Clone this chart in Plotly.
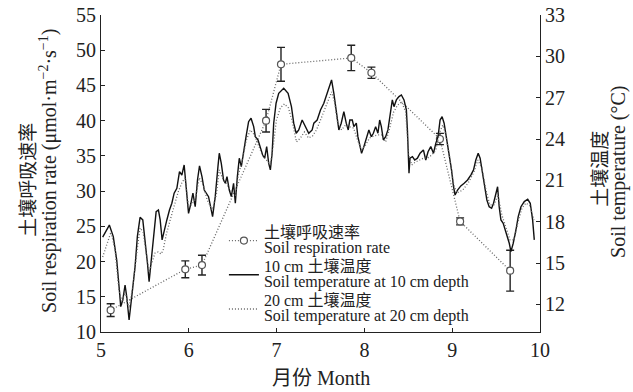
import plotly.graph_objects as go

# Soil respiration rate (left axis)
resp_month = [5.11, 5.96, 6.15, 6.88, 7.05, 7.85, 8.08, 8.86, 9.09, 9.66]
resp_rate = [13.1, 18.9, 19.5, 40.0, 48.0, 48.9, 46.8, 37.4, 25.7, 18.7]
resp_err = [0.9, 1.2, 1.4, 1.6, 2.4, 1.8, 0.8, 0.8, 0.5, 2.9]

# Soil temperature at 10 cm (right axis)
t10_month = [5.019, 5.095, 5.140, 5.179, 5.209, 5.225, 5.248, 5.274, 5.293, 5.320,
             5.350, 5.388, 5.414, 5.445, 5.476, 5.502, 5.529, 5.548, 5.571, 5.597,
             5.628, 5.654, 5.674, 5.696, 5.719, 5.750, 5.780, 5.807, 5.833, 5.864,
             5.894, 5.921, 5.947, 5.970, 5.997, 6.024, 6.047, 6.073, 6.099, 6.122,
             6.150, 6.176, 6.225, 6.271, 6.301, 6.332, 6.347, 6.370, 6.396, 6.416,
             6.435, 6.461, 6.484, 6.510, 6.530, 6.553, 6.575, 6.598, 6.624, 6.652,
             6.681, 6.709, 6.739, 6.758, 6.789, 6.815, 6.841, 6.864, 6.887, 6.910,
             6.929, 6.949, 6.967, 6.994, 7.024, 7.081, 7.131, 7.169, 7.195, 7.223,
             7.252, 7.291, 7.329, 7.366, 7.405, 7.424, 7.462, 7.500, 7.538, 7.577,
             7.606, 7.626, 7.652, 7.683, 7.709, 7.736, 7.766, 7.793, 7.816, 7.834,
             7.862, 7.880, 7.908, 7.926, 7.949, 7.968, 7.994, 8.025, 8.051, 8.079,
             8.102, 8.128, 8.154, 8.174, 8.193, 8.216, 8.242, 8.268, 8.299, 8.318,
             8.337, 8.364, 8.394, 8.421, 8.451, 8.478, 8.490, 8.497, 8.508, 8.519,
             8.547, 8.573, 8.604, 8.634, 8.672, 8.699, 8.725, 8.756, 8.787, 8.813,
             8.839, 8.862, 8.885, 8.908, 8.938, 8.965, 8.992, 9.015, 9.033, 9.061,
             9.098, 9.136, 9.175, 9.212, 9.243, 9.269, 9.296, 9.318, 9.346, 9.372,
             9.395, 9.421, 9.449, 9.471, 9.498, 9.517, 9.535, 9.555, 9.581, 9.604,
             9.631, 9.650, 9.669, 9.695, 9.726, 9.752, 9.783, 9.821, 9.860, 9.889,
             9.916, 9.935]
t10_temp = [16.89, 17.76, 16.92, 15.22, 13.05, 11.84, 12.32, 13.41, 12.56, 10.87,
            12.56, 14.74, 16.92, 18.32, 18.13, 16.68, 14.99, 13.65, 15.22, 16.92,
            18.73, 18.85, 18.13, 16.68, 17.40, 18.13, 18.85, 19.34, 20.07, 20.43,
            21.63, 21.39, 22.12, 20.54, 18.61, 19.34, 20.07, 19.09, 21.03, 22.05,
            21.27, 20.30, 19.82, 18.37, 19.82, 22.00, 22.97, 22.24, 21.03, 20.79,
            21.27, 20.30, 19.82, 20.79, 19.34, 21.27, 22.61, 22.00, 23.21, 24.17,
            25.26, 25.51, 24.90, 24.17, 23.93, 23.45, 22.84, 22.61, 23.45, 22.24,
            21.76, 22.97, 25.15, 26.60, 27.32, 27.69, 27.32, 26.35, 25.15, 24.42,
            24.66, 25.38, 24.90, 24.42, 24.66, 25.15, 25.38, 26.11, 26.60, 27.32,
            27.80, 28.29, 27.32, 25.62, 24.66, 25.15, 25.99, 25.15, 24.66, 25.38,
            25.38, 24.90, 25.15, 24.17, 23.45, 22.97, 23.45, 24.17, 24.66, 24.17,
            24.42, 24.90, 24.42, 25.38, 24.90, 23.93, 24.17, 24.66, 25.87, 26.84,
            26.35, 26.84, 27.08, 27.20, 26.84, 26.11, 24.66, 22.72, 21.52, 22.61,
            22.72, 22.48, 22.61, 22.97, 23.21, 22.48, 23.08, 23.45, 22.97, 23.69,
            24.17, 25.38, 25.62, 25.15, 23.93, 22.97, 21.76, 20.54, 19.94, 20.30,
            20.60, 20.79, 21.03, 21.39, 21.76, 22.48, 22.97, 22.61, 21.52, 20.30,
            19.58, 19.09, 18.98, 19.34, 19.94, 20.54, 19.09, 18.13, 17.89, 17.40,
            16.92, 16.44, 15.83, 16.44, 17.40, 18.37, 19.09, 19.46, 19.63, 19.34,
            18.13, 16.68]

# Soil temperature at 20 cm (right axis)
t20_month = [5.019, 5.068, 5.114, 5.160, 5.205, 5.240, 5.274, 5.320, 5.365, 5.411,
             5.445, 5.479, 5.514, 5.548, 5.582, 5.616, 5.651, 5.685, 5.708, 5.742,
             5.788, 5.833, 5.879, 5.925, 5.959, 5.993, 6.027, 6.073, 6.119, 6.164,
             6.210, 6.267, 6.313, 6.347, 6.393, 6.438, 6.484, 6.530, 6.564, 6.610,
             6.655, 6.701, 6.747, 6.792, 6.838, 6.884, 6.929, 6.963, 6.998, 7.043,
             7.089, 7.135, 7.180, 7.226, 7.272, 7.317, 7.363, 7.409, 7.454, 7.500,
             7.546, 7.591, 7.626, 7.660, 7.694, 7.740, 7.785, 7.831, 7.877, 7.922,
             7.968, 8.014, 8.059, 8.105, 8.151, 8.196, 8.242, 8.288, 8.333, 8.379,
             8.425, 8.470, 8.505, 8.539, 8.584, 8.630, 8.676, 8.721, 8.767, 8.813,
             8.858, 8.893, 8.927, 8.973, 9.018, 9.053, 9.121, 9.189, 9.247, 9.292,
             9.338, 9.384, 9.429, 9.475, 9.521, 9.566, 9.612, 9.658, 9.703, 9.749,
             9.795, 9.840, 9.886, 9.932]
t20_temp = [15.44, 16.31, 17.26, 15.95, 13.05, 12.18, 12.90, 11.74, 13.41, 15.95,
            17.55, 17.26, 15.59, 14.35, 15.08, 15.73, 15.81, 15.66, 15.95, 17.04,
            18.13, 19.22, 20.16, 20.89, 21.17, 19.22, 19.22, 19.58, 21.18, 20.67,
            19.58, 18.85, 19.94, 21.76, 21.03, 20.67, 20.16, 19.94, 21.39, 22.48,
            23.93, 24.66, 24.30, 23.57, 22.84, 22.48, 22.12, 23.57, 25.38, 26.26,
            26.55, 26.26, 25.24, 23.79, 24.08, 24.51, 24.08, 24.22, 24.66, 25.38,
            26.11, 26.84, 27.42, 26.69, 25.24, 24.66, 25.02, 24.88, 24.80, 23.93,
            23.21, 23.57, 24.08, 24.22, 24.30, 24.30, 23.79, 24.80, 25.96, 26.47,
            26.69, 25.96, 22.84, 22.12, 22.34, 22.48, 22.63, 22.63, 22.84, 23.21,
            24.51, 25.02, 24.30, 22.63, 20.67, 20.09, 20.30, 20.89, 21.61, 22.48,
            21.90, 20.30, 19.22, 19.22, 19.94, 18.49, 17.55, 16.68, 16.68, 17.98,
            19.00, 19.36, 19.14, 18.13]

x_ticks = [5, 6, 7, 8, 9, 10]
y1_ticks = [10, 15, 20, 25, 30, 35, 40, 45, 50, 55]
y2_ticks = [12, 15, 18, 21, 24, 27, 30, 33]

SERIF = "Liberation Serif, Times New Roman, Noto Sans CJK SC, serif"


def leg(l1, l2):
    s = "<span style='font-size:16px'>"
    return s + l1 + "</span><br>" + s + l2 + "</span>"


fig = go.Figure()

fig.add_trace(go.Scatter(
    x=resp_month, y=resp_rate, mode="lines+markers",
    name=leg("土壤呼吸速率", "Soil respiration rate"),
    line=dict(color="#666666", width=1.3, dash="1px,2px"),
    marker=dict(symbol="circle", size=7, color="white",
                line=dict(color="#555555", width=1.2)),
    error_y=dict(type="data", array=resp_err, color="#222222",
                 thickness=1.4, width=4),
    yaxis="y"))

fig.add_trace(go.Scatter(
    x=t10_month, y=t10_temp, mode="lines",
    name=leg("10 cm 土壤温度", "Soil temperature at 10 cm depth"),
    line=dict(color="#111111", width=1.4),
    yaxis="y2"))

fig.add_trace(go.Scatter(
    x=t20_month, y=t20_temp, mode="lines",
    name=leg("20 cm 土壤温度", "Soil temperature at 20 cm depth"),
    line=dict(color="#666666", width=1.3, dash="1px,2px"),
    yaxis="y2"))

axis_common = dict(showgrid=False, zeroline=False, showline=True,
                   automargin=False, ticklabeloverflow="allow",
                   linecolor="#222222", linewidth=1, ticks="inside",
                   ticklen=4, tickcolor="#222222",
                   tickfont=dict(family=SERIF, size=20, color="#222222"))

fig.update_layout(
    width=633, height=392,
    margin=dict(l=101, r=93, t=15, b=60),
    paper_bgcolor="white", plot_bgcolor="white",
    font=dict(family=SERIF, color="#222222"),
    showlegend=True,
    legend=dict(x=0.28, y=0.358, xanchor="left", yanchor="top",
                bgcolor="rgba(0,0,0,0)", font=dict(family=SERIF, size=12,
                                                    color="#222222"),
                tracegroupgap=0, itemwidth=30),
    xaxis=dict(range=[5, 10], tickvals=x_ticks,
               ticktext=[str(v) for v in x_ticks], **axis_common),
    yaxis=dict(range=[10, 55], tickvals=y1_ticks,
               ticktext=[str(v) for v in y1_ticks], **axis_common),
    yaxis2=dict(range=[10, 33], tickvals=y2_ticks,
                ticktext=[str(v) for v in y2_ticks], overlaying="y",
                side="right", **axis_common),
)

ann_font = dict(family=SERIF, size=20, color="#222222")
cjk_font = dict(family=SERIF, size=19, color="#222222")
fig.add_annotation(text="月份 Month", xref="paper", yref="paper", x=0.5, y=0,
                   yshift=-46, xanchor="center", yanchor="middle",
                   showarrow=False, font=ann_font)
fig.add_annotation(text="土壤呼吸速率", xref="paper", yref="paper", x=0,
                   xshift=-72, y=0.48, xanchor="center", yanchor="middle",
                   textangle=-90, showarrow=False, font=cjk_font)
fig.add_annotation(text="Soil respiration rate (μmol·m<sup>−2</sup>·s<sup>−1</sup>)",
                   xref="paper", yref="paper", x=0, xshift=-52, y=0.508,
                   xanchor="center", yanchor="middle",
                   textangle=-90, showarrow=False, font=ann_font)
fig.add_annotation(text="土壤温度", xref="paper", yref="paper", x=1,
                   xshift=61, y=0.515, xanchor="center", yanchor="middle",
                   textangle=-90, showarrow=False, font=cjk_font)
fig.add_annotation(text="Soil temperature (°C)", xref="paper", yref="paper",
                   x=1, xshift=79, y=0.505, xanchor="center", yanchor="middle",
                   textangle=-90, showarrow=False, font=ann_font)

# remove the default 8px page margin so the figure sits at the window's corner
fig.write_html("out.html", config={"displayModeBar": False},
               post_script="document.body.style.margin='0px';")
